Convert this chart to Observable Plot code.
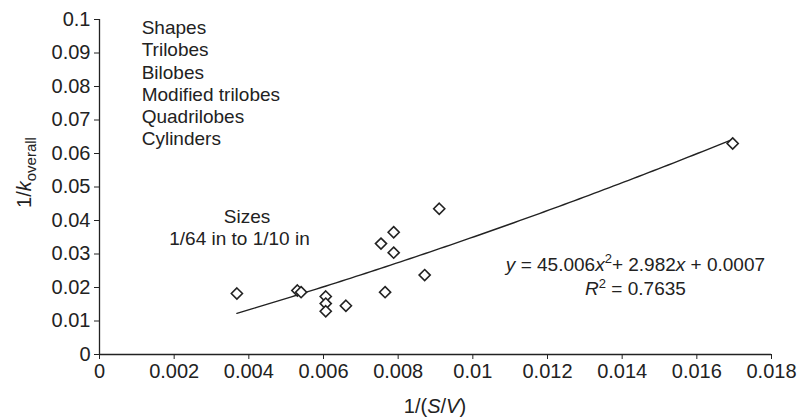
<!DOCTYPE html>
<html>
<head>
<meta charset="utf-8">
<script src="https://cdn.jsdelivr.net/npm/d3@7"></script>
<script src="https://cdn.jsdelivr.net/npm/@observablehq/plot@0.6"></script>
<style>
  html, body { margin: 0; padding: 0; background: #fff; }
  #chart svg { display: block; }
</style>
</head>
<body>
<div id="chart"></div>
<script>
// Reciprocal surface-to-volume ratio vs reciprocal overall rate constant
const sv = [0.00368, 0.0053, 0.0054, 0.00606, 0.00606, 0.00606, 0.0066, 0.00765, 0.00754, 0.00788, 0.00788, 0.00871, 0.0091, 0.01696];
const kInv = [0.0182, 0.0191, 0.0186, 0.0173, 0.0152, 0.0129, 0.01455, 0.0186, 0.0331, 0.0365, 0.0304, 0.0237, 0.0435, 0.0630];

// Catalyst shapes and sizes listed on the chart
const shapes = ["Shapes", "Trilobes", "Bilobes", "Modified trilobes", "Quadrilobes", "Cylinders"];
const sizeNotes = ["Sizes", "1/64 in to 1/10 in"];

// Axis ticks
const xTicks = [0, 0.002, 0.004, 0.006, 0.008, 0.01, 0.012, 0.014, 0.016, 0.018];
const xTickLabels = ["0", "0.002", "0.004", "0.006", "0.008", "0.01", "0.012", "0.014", "0.016", "0.018"];
const yTicks = [0, 0.01, 0.02, 0.03, 0.04, 0.05, 0.06, 0.07, 0.08, 0.09, 0.1];
const yTickLabels = ["0", "0.01", "0.02", "0.03", "0.04", "0.05", "0.06", "0.07", "0.08", "0.09", "0.1"];

// Quadratic trend line: y = a x^2 + b x + c
const fitA = 45.006, fitB = 2.982, fitC = 0.0007;
const rSquared = "0.7635";

const points = sv.map((x, i) => ({x, y: kInv[i]}));
const xMin = d3.min(sv), xMax = d3.max(sv);
const fit = d3.range(0, 101).map(i => {
  const x = xMin + (xMax - xMin) * i / 100;
  return {x, y: fitA * x * x + fitB * x + fitC};
});

const FONT = "'Liberation Sans', Arial, sans-serif";
const INK = "#222";

const plot = Plot.plot({
  width: 799,
  height: 419,
  marginLeft: 99,
  marginRight: 28,
  marginTop: 19,
  marginBottom: 65,
  style: {fontFamily: FONT, fontSize: "20px", color: INK, background: "#fff"},
  x: {domain: [0, 0.018]},
  y: {domain: [0, 0.1]},
  marks: [
    Plot.ruleY([0], {stroke: INK, strokeWidth: 1.3}),
    Plot.ruleX([0], {stroke: INK, strokeWidth: 1.3}),
    Plot.axisX({ticks: xTicks, tickSize: 5, tickPadding: 4, tickFormat: d => xTickLabels[xTicks.indexOf(d)], label: null, fontSize: 20, stroke: INK}),
    Plot.axisY({ticks: yTicks, tickSize: 5, tickPadding: 4, tickFormat: d => yTickLabels[yTicks.indexOf(d)], label: null, fontSize: 20, stroke: INK}),
    Plot.line(fit, {x: "x", y: "y", stroke: INK, strokeWidth: 1.4}),
    Plot.dot(points, {x: "x", y: "y", symbol: "diamond2", r: 5, stroke: INK, strokeWidth: 1.6, fill: "#fff"}),
    Plot.text([shapes.join("\n")], {
      x: 0.00113, y: 0.1003, text: d => d, textAnchor: "start", lineAnchor: "top",
      lineHeight: 1.17, fontSize: 19, fill: INK
    }),
    Plot.text([sizeNotes[0]], {x: 0.00395, y: 0.0393, text: d => d, textAnchor: "middle", lineAnchor: "bottom", fontSize: 19, fill: INK}),
    Plot.text([sizeNotes[1]], {x: 0.00375, y: 0.0328, text: d => d, textAnchor: "middle", lineAnchor: "bottom", fontSize: 19, fill: INK})
  ]
});

document.getElementById("chart").appendChild(plot);

// Rich-text labels: axis titles and the regression equation
const svg = d3.select(plot);
const sx = plot.scale("x"), sy = plot.scale("y");

const yTitle = svg.append("text")
  .attr("transform", `translate(31,${(sy.apply(0) + sy.apply(0.1)) / 2 - 14}) rotate(-90)`)
  .attr("text-anchor", "middle")
  .attr("font-family", FONT).attr("font-size", 20).attr("fill", INK);
yTitle.append("tspan").text("1/");
yTitle.append("tspan").attr("font-style", "italic").text("k");
yTitle.append("tspan").attr("font-size", 15).attr("dy", 5).text("overall");

const xTitle = svg.append("text")
  .attr("x", (sx.apply(0) + sx.apply(0.018)) / 2)
  .attr("y", 413)
  .attr("text-anchor", "middle")
  .attr("font-family", FONT).attr("font-size", 20).attr("fill", INK);
xTitle.append("tspan").text("1/(");
xTitle.append("tspan").attr("font-style", "italic").text("S");
xTitle.append("tspan").text("/");
xTitle.append("tspan").attr("font-style", "italic").text("V");
xTitle.append("tspan").text(")");

const eqX = sx.apply(0.01437);
const eq = svg.append("text")
  .attr("x", eqX).attr("y", 271)
  .attr("text-anchor", "middle")
  .attr("font-family", FONT).attr("font-size", 19).attr("fill", INK);
eq.append("tspan").attr("font-style", "italic").text("y");
eq.append("tspan").text(` = ${fitA.toFixed(3)}`);
eq.append("tspan").attr("font-style", "italic").text("x");
eq.append("tspan").attr("font-size", 13).attr("dy", -8).text("2");
eq.append("tspan").attr("dy", 8).text(`+ ${fitB}`);
eq.append("tspan").attr("font-style", "italic").text("x");
eq.append("tspan").text(` + ${fitC}`);

const r2 = svg.append("text")
  .attr("x", eqX).attr("y", 295)
  .attr("text-anchor", "middle")
  .attr("font-family", FONT).attr("font-size", 19).attr("fill", INK);
r2.append("tspan").attr("font-style", "italic").text("R");
r2.append("tspan").attr("font-size", 13).attr("dy", -7).text("2");
r2.append("tspan").attr("dy", 7).text(` = ${rSquared}`);
</script>
</body>
</html>
